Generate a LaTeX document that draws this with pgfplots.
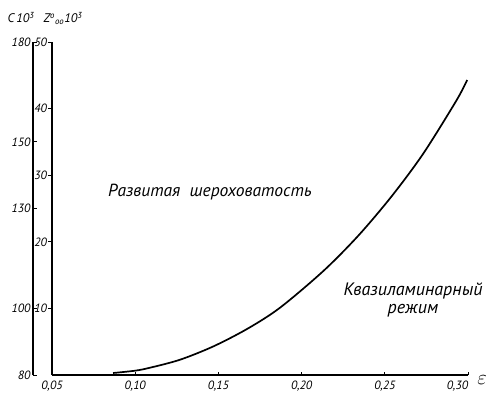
\documentclass[border=0pt]{standalone}
\usepackage{fontspec}
\setmainfont{PT Sans}
\usepackage{pgfplots}
\pgfplotsset{compat=1.18}

% Z curve versus relative roughness epsilon
\pgfplotstableread{
eps    Z
0.0867 0.3
0.100  0.65
0.109  1.1
0.127  2.3
0.147  4.3
0.1675 6.95
0.187  10.1
0.213  15.6
0.234  20.9
0.254  26.8
0.273  33.2
0.293  41.2
0.2995 44.3
}\zcurve

\begin{document}
\begin{tikzpicture}[font=\itshape]
% outer scale: C x 10^3
\begin{axis}[
  at={(-19pt,0pt)}, anchor=south west,
  scale only axis, width=1pt, height=333pt,
  xmin=0, xmax=1, ymin=80, ymax=180,
  axis x line=none, axis y line=left,
  axis line style={line width=1.1pt,-},
  ytick={80,100,130,150,180},
  yticklabels={80,100,130,150,180},
  tick align=inside,
  major tick length=4pt,
  tick style={line width=0.9pt,black},
  yticklabel style={font=\itshape\fontsize{12}{12}\selectfont, xshift=1pt},
]
\addplot[draw=none] coordinates {(0,80)};
\end{axis}
% inner scale and the curve
\begin{axis}[
  at={(0pt,0pt)}, anchor=south west,
  scale only axis, width=416pt, height=333pt,
  xmin=0.05, xmax=0.30, ymin=0, ymax=50,
  axis x line=bottom, axis y line=left,
  axis line style={line width=1.3pt,-},
  xtick={0.05,0.10,0.15,0.20,0.25,0.30},
  xticklabels={{0,05},{0,10},{0,15},{0,20},{0,25},{\makebox[0pt][r]{0,30}}},
  ytick={10,20,30,40,50},
  yticklabels={10,20,30,40,50},
  xtick align=inside, ytick align=outside,
  major tick length=3.5pt,
  tick style={line width=0.9pt,black},
  xticklabel style={font=\itshape\fontsize{12}{12}\selectfont, yshift=-2pt},
  yticklabel style={font=\itshape\fontsize{12}{12}\selectfont, xshift=2pt},
  clip=false,
]
\addplot[line width=1.7pt, smooth] table[x=eps, y=Z] {\zcurve};
\end{axis}
% axis titles and region labels
\node[anchor=base, inner sep=1pt] at (-31pt,352pt) {\fontsize{12.5}{12.5}\selectfont C$\,$10\textsuperscript{3}};
\node[anchor=base, inner sep=1pt] at (11pt,352pt) {\fontsize{12.5}{12.5}\selectfont Z\textsuperscript{o}\textsubscript{oo}10\textsuperscript{3}};
\node at (430pt,-5pt) {\fontsize{20}{20}\selectfont$\varepsilon$};
\node at (158pt,183pt) {\fontsize{17.5}{17.5}\selectfont Развитая\ \ шероховатость};
\node[inner sep=0pt] at (361pt,84pt) {\fontsize{18}{18}\selectfont Квазиламинарный};
\node[inner sep=0pt] at (361pt,64pt) {\fontsize{18}{18}\selectfont режим};
\pgfresetboundingbox
\path (-52pt,-19pt) rectangle (440pt,375pt);
\end{tikzpicture}
\end{document}
